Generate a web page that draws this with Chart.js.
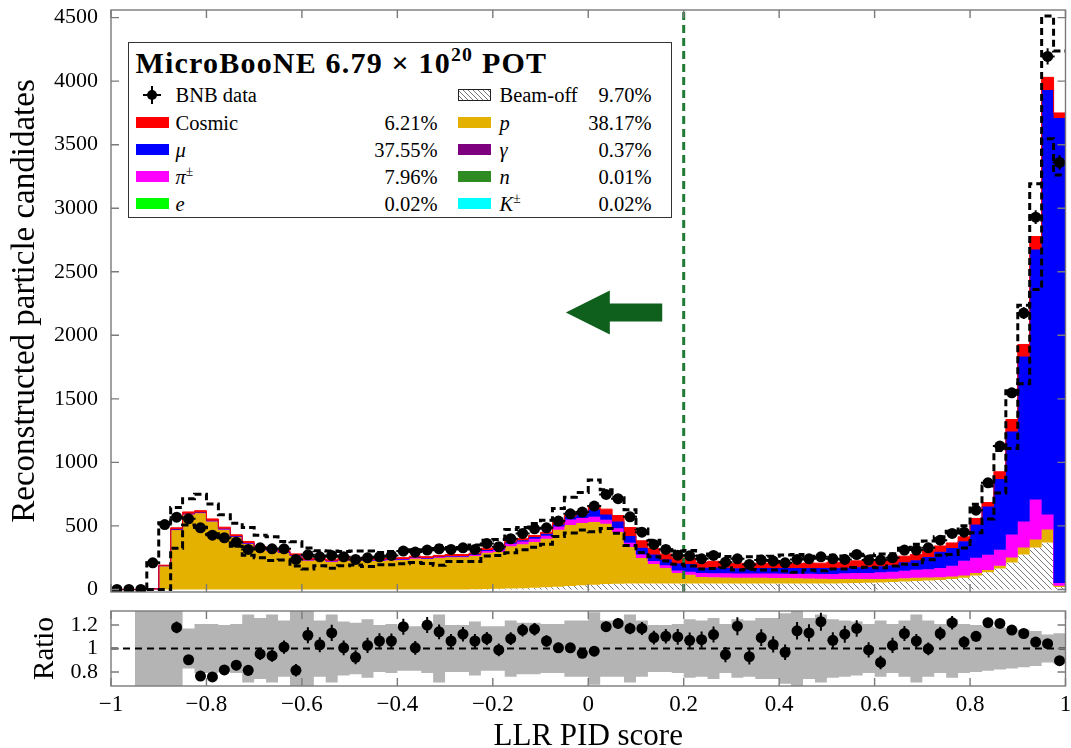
<!DOCTYPE html>
<html>
<head>
<meta charset="utf-8">
<title>LLR PID score</title>
<script src="https://cdn.jsdelivr.net/npm/chart.js@4.4.1/dist/chart.umd.min.js"></script>
<style>
  html, body { margin: 0; padding: 0; background: #fff; }
  #wrap { position: relative; width: 1071px; height: 748px; overflow: hidden;
          font-family: 'Liberation Serif', 'DejaVu Serif', serif; color: #000; }
  #wrap canvas { position: absolute; left: 0; }
  #main { top: 0; }
  #ratio { top: 600px; }
  #legend { position: absolute; left: 128px; top: 42px; width: 544px; height: 176px;
            box-sizing: border-box; border: 1.5px solid #333; background: #fff; }
  .lt { position: absolute; font-size: 20.5px; line-height: 24px; white-space: nowrap; }
  .pct { text-align: right; }
  .sw { position: absolute; width: 33px; height: 11px; box-sizing: border-box; }
  .ttl { position: absolute; font-weight: bold; font-size: 30px; letter-spacing: 1.2px;
         line-height: 34px; white-space: nowrap; }
  sup { font-size: 0.66em; vertical-align: 0.6em; line-height: 0; }
  .mk { position: absolute; background: #000; }
</style>
</head>
<body>
<div id="wrap">
  <canvas id="main" width="1071" height="600"></canvas>
  <canvas id="ratio" width="1071" height="148"></canvas>
  <div id="legend"></div>
</div>
<script>
// 80 bins of 0.025 in LLR PID score
const nBins = 80;
const scoreMin = -1;
const scoreMax = 1;
const binWidth = (scoreMax - scoreMin) / nBins;
const binEdges = Array.from({ length: nBins + 1 }, (_, i) => scoreMin + i * binWidth);

const beamOff = [
  0, 0, 0, 0, 0, 0, 0, 0, 0, 0,
  0, 0, 0, 0, 0, 0, 0, 0, 0, 0,
  0, 0, 0, 0, 0, 0, 0, 0, 0, 0,
  2, 3, 5, 7, 10, 14, 18, 22, 28, 33,
  38, 42, 45, 46, 47, 47, 47, 47, 47, 47,
  47, 47, 47, 47, 47, 47, 47, 47, 47, 47,
  47, 48, 50, 52, 55, 58, 62, 66, 70, 75,
  82, 92, 110, 135, 165, 212, 275, 330, 370, 20
];
const proton = [
  0, 0, 0, 5, 187, 470, 593, 603, 538, 474,
  414, 362, 323, 307, 291, 266, 229, 231, 220, 229,
  232, 226, 225, 230, 232, 243, 239, 249, 254, 254,
  262, 285, 290, 333, 346, 360, 382, 448, 480, 490,
  492, 476, 407, 289, 201, 153, 121, 83, 68, 52,
  50, 48, 46, 45, 45, 44, 43, 42, 40, 38,
  36, 35, 33, 30, 28, 26, 27, 26, 24, 22,
  20, 18, 20, 18, 22, 40, 55, 63, 102, 10
];
const pion = [
  0, 0, 0, 0, 0, 1, 1, 1, 1, 1,
  2, 2, 2, 2, 2, 2, 3, 3, 3, 3,
  4, 4, 5, 5, 5, 6, 6, 6, 7, 7,
  8, 14, 15, 20, 22, 26, 22, 26, 42, 40,
  42, 30, 30, 32, 27, 23, 22, 20, 25, 30,
  31, 32, 32, 33, 33, 34, 34, 35, 36, 37,
  38, 44, 46, 48, 52, 55, 58, 63, 66, 72,
  85, 115, 120, 120, 125, 181, 205, 315, 118, 20
];
const muon = [
  0, 0, 0, 0, 0, 2, 2, 2, 2, 2,
  2, 2, 2, 2, 2, 2, 2, 2, 2, 2,
  3, 3, 3, 3, 3, 3, 3, 3, 3, 3,
  5, 8, 8, 10, 10, 12, 16, 16, 22, 32,
  58, 42, 53, 53, 53, 52, 46, 55, 60, 42,
  44, 43, 42, 42, 43, 43, 44, 44, 45, 46,
  48, 44, 45, 46, 48, 52, 67, 74, 95, 128,
  140, 155, 262, 380, 557, 810, 1298, 1967, 3340, 3660
];
const cosmic = [
  0, 0, 0, 0, 4, 12, 14, 14, 14, 13,
  12, 12, 11, 11, 10, 10, 9, 9, 9, 9,
  9, 9, 9, 9, 10, 10, 10, 10, 11, 11,
  8, 15, 12, 10, 12, 13, 12, 15, 13, 20,
  28, 42, 47, 67, 55, 47, 44, 45, 45, 41,
  50, 45, 38, 40, 39, 40, 40, 37, 40, 39,
  46, 41, 51, 44, 42, 42, 48, 47, 53, 45,
  39, 34, 47, 31, 57, 94, 95, 102, 100, 40
];
const bnbData = [
  0, 0, 0, 210, 511, 569, 556, 485, 427, 407,
  372, 315, 328, 320, 320, 236, 273, 257, 268, 257,
  236, 249, 257, 268, 302, 294, 310, 320, 315, 328,
  315, 362, 336, 399, 441, 477, 485, 538, 595, 609,
  656, 748, 714, 572, 451, 354, 315, 270, 265, 241,
  268, 215, 241, 197, 231, 223, 210, 236, 241, 257,
  241, 236, 275, 231, 231, 249, 310, 310, 328, 388,
  441, 451, 624, 839, 1128, 1547, 2175, 2930, 4195, 3360
];
// relative systematic uncertainty on the prediction (dashed envelope, grey band)
const sysFrac = [
  0, 0, 9, 41, 1.75, 0.33, 0.17, 0.21, 0.21, 0.20,
  0.21, 0.29, 0.26, 0.29, 0.24, 0.34, 0.34, 0.24, 0.29, 0.23,
  0.22, 0.25, 0.20, 0.21, 0.19, 0.19, 0.21, 0.29, 0.20, 0.20,
  0.23, 0.19, 0.19, 0.24, 0.22, 0.22, 0.21, 0.21, 0.24, 0.24,
  0.31, 0.24, 0.24, 0.29, 0.24, 0.20, 0.20, 0.21, 0.25, 0.24,
  0.26, 0.21, 0.25, 0.24, 0.26, 0.26, 0.30, 0.34, 0.26, 0.29,
  0.25, 0.24, 0.23, 0.21, 0.24, 0.21, 0.24, 0.29, 0.24, 0.21,
  0.25, 0.21, 0.20, 0.19, 0.18, 0.17, 0.16, 0.15, 0.12, 0.13
];
const dataMcRatio = [
  null, null, null, null, null, 1.18, 0.904, 0.765, 0.757, 0.817,
  0.858, 0.814, 0.954, 0.939, 1.012, 0.814, 1.113, 1.032, 1.133, 1.006,
  0.925, 1.026, 1.064, 1.064, 1.186, 1.006, 1.2, 1.142, 1.064, 1.122,
  1.064, 1.084, 0.988, 1.084, 1.157, 1.165, 1.064, 1.006, 1.006, 0.959,
  0.977, 1.186, 1.214, 1.171, 1.171, 1.093, 1.104, 1.099, 1.07, 1.075,
  1.119, 0.948, 1.19, 0.93, 1.093, 1.035, 0.968, 1.151, 1.133, 1.229,
  1.07, 1.122, 1.171, 0.988, 0.881, 1.026, 1.128, 1.064, 0.997, 1.128,
  1.22, 1.055, 1.104, 1.22, 1.214, 1.157, 1.128, 1.055, 1.041, 0.896
];

const xTicks = [-1, -0.8, -0.6, -0.4, -0.2, 0, 0.2, 0.4, 0.6, 0.8, 1];
const yTicksMain = [0, 500, 1000, 1500, 2000, 2500, 3000, 3500, 4000, 4500];
const yTicksRatio = [0.8, 1, 1.2];
const yMin = -20, yMax = 4560;
const ratioMin = 0.68, ratioMax = 1.32;
const cutValue = 0.2;
const arrowY = 2180, arrowTip = -0.047, arrowTail = 0.155;

const legendTitle = 'MicroBooNE 6.79 × 10<sup>20</sup> POT';
const legendLeft = [
  ['BNB data', '', null],
  ['Cosmic', '6.21%', '#ff0000'],
  ['<i>μ</i>', '37.55%', '#0000ff'],
  ['<i>π</i><sup>±</sup>', '7.96%', '#ff00ff'],
  ['<i>e</i>', '0.02%', '#00ff00']
];
const legendRight = [
  ['Beam-off', '9.70%', 'hatch'],
  ['<i>p</i>', '38.17%', '#e5b100'],
  ['<i>γ</i>', '0.37%', '#7f007f'],
  ['<i>n</i>', '0.01%', '#2e8b22'],
  ['<i>K</i><sup>±</sup>', '0.02%', '#00ffff']
];

// ---- helpers ----
const serif = "'Liberation Serif', 'DejaVu Serif', serif";
Chart.defaults.font.family = serif;
Chart.defaults.color = '#000';

function stepPoints(values, from) {
  const pts = [];
  for (let i = from; i < nBins; i++) pts.push({ x: binEdges[i], y: values[i] });
  pts.push({ x: binEdges[nBins], y: values[nBins - 1] });
  return pts;
}

const layers = [beamOff, proton, pion, muon, cosmic];
const cumulative = [];
layers.forEach((arr, k) => {
  cumulative.push(arr.map((v, i) => v + (k ? cumulative[k - 1][i] : 0)));
});
const total = cumulative[cumulative.length - 1];
const firstBin = total.findIndex(v => v > 0);
const upper = total.map((t, i) => t * (1 + sysFrac[i]));
const lower = total.map((t, i) => Math.max(0, t * (1 - sysFrac[i])));
const upperPts = [{ x: binEdges[firstBin], y: 0 }].concat(stepPoints(upper, firstBin));
const lowerPts = [{ x: binEdges[firstBin], y: 0 }].concat(stepPoints(lower, firstBin));

function hatchPattern() {
  const c = document.createElement('canvas');
  c.width = 6; c.height = 6;
  const g = c.getContext('2d');
  g.fillStyle = '#fff'; g.fillRect(0, 0, 6, 6);
  g.strokeStyle = '#7a7a7a'; g.lineWidth = 1;
  g.beginPath();
  g.moveTo(0, 0); g.lineTo(6, 6);
  g.moveTo(-1, 5); g.lineTo(1, 7);
  g.moveTo(5, -1); g.lineTo(7, 1);
  g.stroke();
  return g.createPattern(c, 'repeat');
}

const fmtTick = v => (v < 0 ? '\u2212' : '') + String(Math.abs(Math.round(v * 10) / 10));

// frame + inward ticks
const frameTicks = {
  id: 'frameTicks',
  afterDraw(chart, args, o) {
    const { ctx, chartArea: a, scales } = chart;
    ctx.save();
    ctx.strokeStyle = '#7a7a7a';
    ctx.lineWidth = 1.4;
    ctx.strokeRect(a.left, a.top, a.right - a.left, a.bottom - a.top);
    ctx.beginPath();
    o.x.forEach(v => {
      const px = scales.x.getPixelForValue(v);
      ctx.moveTo(px, a.bottom); ctx.lineTo(px, a.bottom - o.len);
      ctx.moveTo(px, a.top); ctx.lineTo(px, a.top + o.len);
    });
    o.y.forEach(v => {
      const py = scales.y.getPixelForValue(v);
      ctx.moveTo(a.left, py); ctx.lineTo(a.left + o.len, py);
      ctx.moveTo(a.right, py); ctx.lineTo(a.right - o.len, py);
    });
    ctx.stroke();
    ctx.restore();
  }
};

// vertical stat error bars on dataset 0
const errorBars = {
  id: 'errorBars',
  afterDatasetsDraw(chart, args, o) {
    const ds = chart.data.datasets[0];
    const meta = chart.getDatasetMeta(0);
    const y = chart.scales.y;
    const { ctx, chartArea: a } = chart;
    ctx.save();
    ctx.beginPath();
    ctx.rect(a.left, a.top, a.right - a.left, a.bottom - a.top + 6);
    ctx.clip();
    ctx.strokeStyle = '#000';
    ctx.lineWidth = 2;
    meta.data.forEach((pt, i) => {
      const e = ds.errors[i];
      const v = ds.data[i].y;
      if (!e) return;
      ctx.beginPath();
      ctx.moveTo(pt.x, y.getPixelForValue(v - e));
      ctx.lineTo(pt.x, y.getPixelForValue(v + e));
      if (o.cap) { ctx.moveTo(pt.x - o.cap, pt.y); ctx.lineTo(pt.x + o.cap, pt.y); }
      ctx.stroke();
    });
    ctx.restore();
  }
};

// green arrow pointing to the proton-like side of the cut
const arrowMark = {
  id: 'arrowMark',
  afterDatasetsDraw(chart) {
    const { ctx, scales: { x, y } } = chart;
    const py = y.getPixelForValue(arrowY);
    const tip = x.getPixelForValue(arrowTip);
    const tail = x.getPixelForValue(arrowTail);
    const headLen = 44, headHalf = 22, shaftHalf = 9;
    ctx.save();
    ctx.fillStyle = '#0f5f1d';
    ctx.beginPath();
    ctx.moveTo(tip, py);
    ctx.lineTo(tip + headLen, py - headHalf);
    ctx.lineTo(tip + headLen, py - shaftHalf);
    ctx.lineTo(tail, py - shaftHalf);
    ctx.lineTo(tail, py + shaftHalf);
    ctx.lineTo(tip + headLen, py + shaftHalf);
    ctx.lineTo(tip + headLen, py + headHalf);
    ctx.closePath();
    ctx.fill();
    ctx.restore();
  }
};

// fixed axis boxes so both panels share the same plot area
const fixY = s => { s.width = 111; s.paddingTop = 0; s.paddingBottom = 0; };
const fixX = s => { s.height = 62; s.paddingLeft = 0; s.paddingRight = 0; };

// ---- main panel ----
const fillColors = [hatchPattern(), '#e5b100', '#ff00ff', '#0000ff', '#ff0000'];
const fillSets = cumulative.map((vals, k) => ({
  data: stepPoints(vals, 0),
  stepped: 'before',
  fill: k === 0 ? 'origin' : '-1',
  backgroundColor: fillColors[k],
  borderColor: k === 0 ? 'rgba(0,0,0,0)' : fillColors[k],
  borderWidth: 1,
  pointRadius: 0,
  order: 8 - k
}));

new Chart(document.getElementById('main'), {
  type: 'line',
  data: {
    datasets: [
      {
        data: bnbData.map((v, i) => ({ x: binEdges[i] + binWidth / 2, y: v })),
        errors: bnbData.map(v => Math.sqrt(v)),
        showLine: false, pointRadius: 5.5, pointBackgroundColor: '#000',
        pointBorderWidth: 0, order: 0
      },
      { data: upperPts, stepped: 'before', borderColor: '#000', borderWidth: 3,
        borderDash: [7, 4], pointRadius: 0, fill: false, order: 1 },
      { data: lowerPts, stepped: 'before', borderColor: '#000', borderWidth: 3,
        borderDash: [7, 4], pointRadius: 0, fill: false, order: 1 },
      { data: [{ x: cutValue, y: yMin }, { x: cutValue, y: yMax }], borderColor: '#1f7a33',
        borderWidth: 3, borderDash: [8, 5], pointRadius: 0, fill: false, order: 2 }
    ].concat(fillSets)
  },
  options: {
    responsive: false, animation: false, events: [],
    layout: { padding: { top: 10, right: 3, bottom: 8, left: 0 } },
    scales: {
      x: { type: 'linear', min: scoreMin, max: scoreMax, display: false },
      y: {
        type: 'linear', min: yMin, max: yMax,
        afterFit: fixY,
        afterBuildTicks: s => { s.ticks = yTicksMain.map(v => ({ value: v })); },
        grid: { display: false, drawTicks: false }, border: { display: false },
        ticks: { font: { size: 22 }, padding: 13, color: '#000', callback: v => String(v) },
        title: { display: true, text: 'Reconstructed particle candidates', color: '#000',
                 font: { size: 33 }, padding: { top: 6, bottom: 0 } }
      }
    },
    plugins: {
      legend: { display: false }, tooltip: { enabled: false },
      frameTicks: { x: xTicks, y: yTicksMain, len: 8 },
      errorBars: { cap: 7 }
    }
  },
  plugins: [frameTicks, errorBars, arrowMark]
});

// ---- ratio panel ----
const bandFrom = sysFrac.findIndex(s => s > 0);
const ratioPts = [], ratioErr = [];
dataMcRatio.forEach((r, i) => {
  if (r === null) return;
  ratioPts.push({ x: binEdges[i] + binWidth / 2, y: r });
  ratioErr.push(bnbData[i] > 0 ? r / Math.sqrt(bnbData[i]) : 0);
});

new Chart(document.getElementById('ratio'), {
  type: 'line',
  data: {
    datasets: [
      { data: ratioPts, errors: ratioErr, showLine: false, pointRadius: 5.5,
        pointBackgroundColor: '#000', pointBorderWidth: 0, order: 0 },
      { data: [{ x: scoreMin, y: 1 }, { x: scoreMax, y: 1 }], borderColor: '#000',
        borderWidth: 1.8, borderDash: [7, 5], pointRadius: 0, fill: false, order: 1 },
      { data: stepPoints(sysFrac.map(s => Math.min(1 + s, 2)), bandFrom), stepped: 'before',
        borderColor: 'rgba(0,0,0,0)', pointRadius: 0, fill: false, order: 3 },
      { data: stepPoints(sysFrac.map(s => Math.max(1 - s, 0)), bandFrom), stepped: 'before',
        borderColor: 'rgba(0,0,0,0)', backgroundColor: '#b4b4b4', pointRadius: 0,
        fill: '-1', order: 2 }
    ]
  },
  options: {
    responsive: false, animation: false, events: [],
    layout: { padding: { top: 11, right: 3, bottom: 0, left: 0 } },
    scales: {
      x: {
        type: 'linear', min: scoreMin, max: scoreMax,
        afterFit: fixX,
        afterBuildTicks: s => { s.ticks = xTicks.map(v => ({ value: v })); },
        grid: { display: false, drawTicks: false }, border: { display: false },
        ticks: { font: { size: 23 }, padding: 5, color: '#000', autoSkip: false,
                 maxRotation: 0, callback: v => fmtTick(v) },
        title: { display: true, text: 'LLR PID score', color: '#000',
                 font: { size: 31, lineHeight: 1 }, padding: { top: 0, bottom: -4 } }
      },
      y: {
        type: 'linear', min: ratioMin, max: ratioMax,
        afterFit: fixY,
        afterBuildTicks: s => { s.ticks = yTicksRatio.map(v => ({ value: v })); },
        grid: { display: false, drawTicks: false }, border: { display: false },
        ticks: { font: { size: 22 }, padding: 13, color: '#000', callback: v => String(v) },
        title: { display: true, text: 'Ratio', color: '#000',
                 font: { size: 29 }, padding: { top: 28, bottom: 0 } }
      }
    },
    plugins: {
      legend: { display: false }, tooltip: { enabled: false },
      frameTicks: { x: xTicks, y: yTicksRatio, len: 8 },
      errorBars: { cap: 0 }
    }
  },
  plugins: [frameTicks, errorBars]
});

// ---- legend box (HTML text) ----
(function buildLegend() {
  const box = document.getElementById('legend');
  const ox = 129.5, oy = 43.5;
  const rowY = [95, 123, 150, 177, 204];
  const add = (cls, html, css) => {
    const d = document.createElement('div');
    d.className = cls;
    d.innerHTML = html;
    Object.assign(d.style, css);
    box.appendChild(d);
    return d;
  };
  add('ttl', legendTitle, { left: (136 - ox) + 'px', top: (63 - oy - 17) + 'px' });
  const column = (items, swX, labX, pctRight) => {
    items.forEach(([label, pct, color], r) => {
      const cy = rowY[r] - oy;
      if (color === null) {
        const mx = 152 - ox;
        add('mk', '', { left: (mx - 1) + 'px', top: (cy - 9) + 'px', width: '2px', height: '18px' });
        add('mk', '', { left: (mx - 9) + 'px', top: (cy - 1) + 'px', width: '18px', height: '2px' });
        add('mk', '', { left: (mx - 5) + 'px', top: (cy - 5) + 'px', width: '10px', height: '10px', borderRadius: '50%' });
      } else if (color === 'hatch') {
        add('sw', '', { left: (swX - ox) + 'px', top: (cy - 6) + 'px', height: '12px',
          border: '1px solid #222',
          background: 'repeating-linear-gradient(45deg, #fff 0 2.5px, #777 2.5px 3.5px)' });
      } else {
        add('sw', '', { left: (swX - ox) + 'px', top: (cy - 5.5) + 'px', background: color });
      }
      add('lt', label, { left: (labX - ox) + 'px', top: (cy - 12) + 'px' });
      if (pct) add('lt pct', pct, { left: (pctRight - ox - 120) + 'px', width: '120px', top: (cy - 12) + 'px' });
    });
  };
  column(legendLeft, 136, 176, 438);
  column(legendRight, 458, 500, 652);
})();
</script>
</body>
</html>
